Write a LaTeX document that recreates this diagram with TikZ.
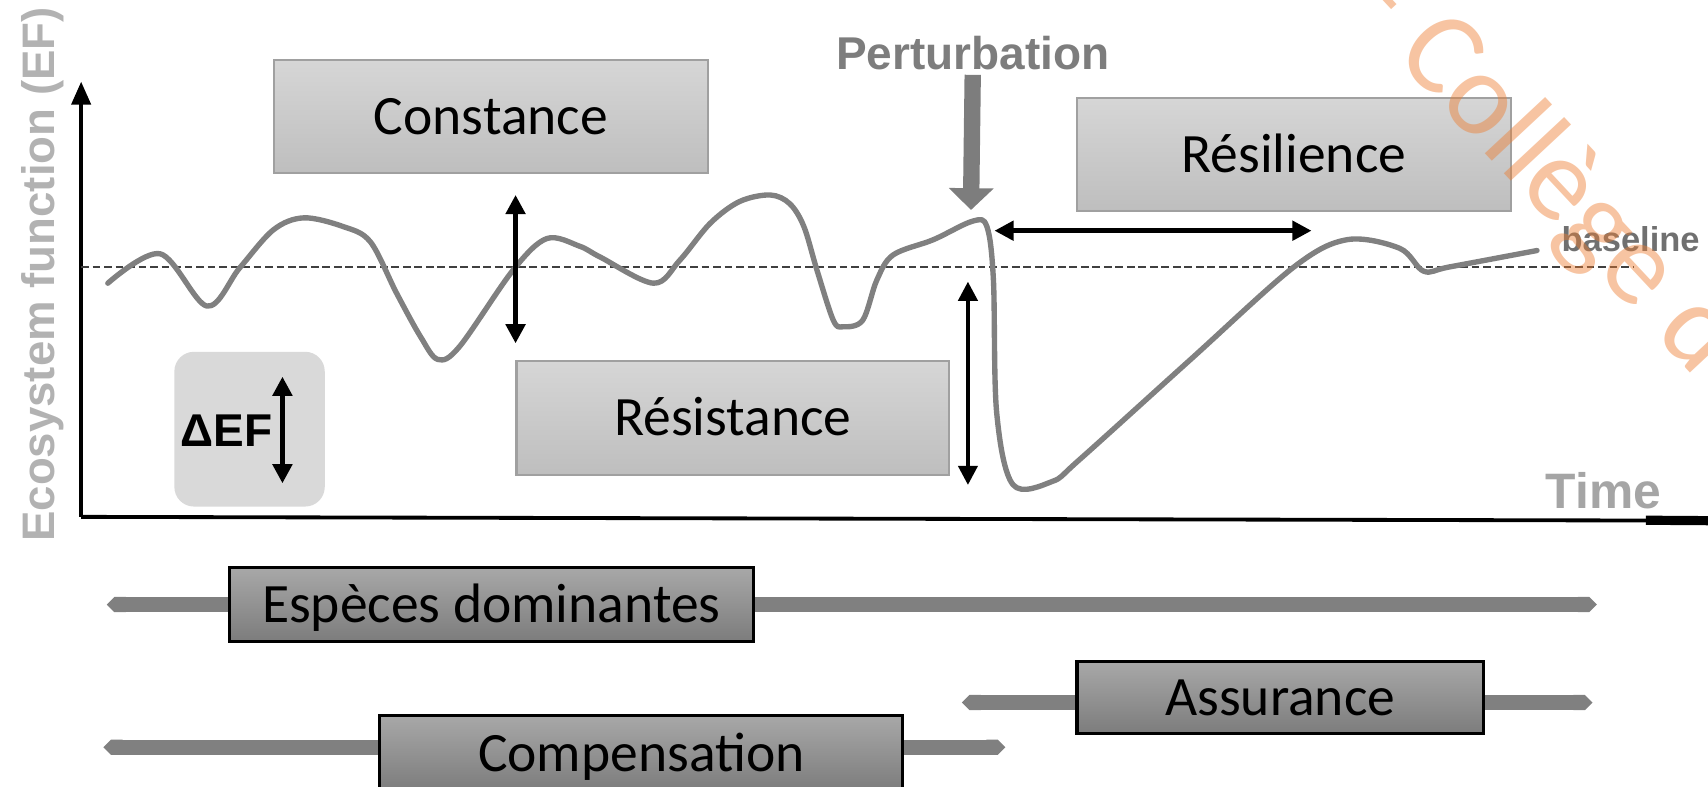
\documentclass[tikz,border=0pt]{standalone}
\usepackage{fontspec}
\setmainfont{Carlito}
\newfontfamily\arialfont{Liberation Sans}
\usepackage{xcolor}
\usepackage{tikz}
\usetikzlibrary{arrows.meta}
\definecolor{curvegray}{RGB}{128,128,128}
\definecolor{labelgray}{RGB}{178,178,178}
\definecolor{timegray}{RGB}{165,165,165}
\definecolor{pertgray}{RGB}{125,125,125}
\definecolor{boxedge}{RGB}{160,160,160}
\definecolor{lighttop}{RGB}{214,214,214}
\definecolor{lightbot}{RGB}{190,190,190}
\definecolor{darktop}{RGB}{168,168,168}
\definecolor{darkbot}{RGB}{124,124,124}
\definecolor{efgray}{RGB}{217,217,217}
\definecolor{wmorange}{RGB}{237,125,49}
\tikzstyle{curve} = [
    draw=curvegray,
    line width=1.4pt,
    line cap=round,
    line join=round
]
\tikzstyle{dashline} = [
    draw=black!75,
    line width=0.5pt,
    dash pattern=on 2pt off 1pt
]
\tikzstyle{dblarrow} = [
    line width=1.2pt,
    <->,
    >={Triangle[length=5pt,width=5pt]}
]
\tikzstyle{bar} = [
    draw=curvegray,
    line width=0.14cm,
    {Triangle Cap}-{Triangle Cap}
]
\tikzstyle{lightbox} = [
    draw=boxedge,
    line width=0.6pt,
    top color=lighttop,
    bottom color=lightbot,
    inner sep=0pt,
    font=\fontsize{14.5}{17}\selectfont,
    text height=9.3pt,
    text depth=0pt
]
\tikzstyle{darkbox} = [
    draw=black,
    line width=0.8pt,
    top color=darktop,
    bottom color=darkbot,
    inner sep=0pt,
    font=\fontsize{14.5}{17}\selectfont,
    text height=9.3pt,
    text depth=0pt
]

\begin{document}
\begin{tikzpicture}[x=0.01cm,y=-0.01cm]

\useasboundingbox (0,0) rectangle (1568,722);

\node[draw=none, fill=efgray, rounded corners=0.18cm, minimum width=1.38cm, minimum height=1.42cm] (efbox) at (229.1,394) {};

\coordinate (origin) at (74.5,474.5);
\coordinate (ytop) at (74.5,75);
\coordinate (xend) at (1568,478);
\coordinate (xthick) at (1511,477.6);
\draw[line width=1pt, -{Triangle[length=6pt,width=5pt]}] (origin) -- (ytop);
\draw[line width=1pt] (origin) -- (xend);
\draw[line width=2.4pt] (xthick) -- (xend);

\node[rotate=90, anchor=base, text=labelgray, font=\arialfont\bfseries\fontsize{11.9}{14}\selectfont] (ylabel) at (50,252) {Ecosystem function (EF)};

\node[text=timegray, font=\arialfont\bfseries\fontsize{13}{15}\selectfont] (timelbl) at (1472,450.5) {Time};

\coordinate (bl-l) at (74.5,245.5);
\coordinate (bl-r) at (1499,245.5);
\draw[dashline] (bl-l) -- (bl-r);

\node[text=pertgray!90!black, font=\arialfont\bfseries\fontsize{9}{11}\selectfont] (baselbl) at (1497,220) {baseline};

\draw[curve] plot[smooth, tension=0.55] coordinates {
(99,260) (147,233) (190,281) (220,246) (251,211) (279,200) (315,208)
(340,222) (364,269) (386,309) (402,330) (422,318) (471,248) (502,219)
(532,226) (551,236) (600,260) (624,239) (652,205) (679,185) (707,179)
(725,187) (738,208) (750,248) (765,294) (774,300) (792,294) (805,257)
(820,234) (857,220) (893,203) (906,208) (912,257) (915,379) (930,445)
(966,442) (991,422) (1093,330) (1188,245) (1237,220) (1285,228)
(1307,249) (1331,245) (1411,230)};

\node[text=pertgray, font=\arialfont\bfseries\fontsize{12}{14}\selectfont, inner sep=1pt] (pert) at (893,49) {Perturbation};
\coordinate (peak) at (891.4,192.8);
\draw[draw=pertgray, line width=0.15cm, -{Triangle[length=0.2cm,width=0.4cm]}] (pert.south) -- (peak);

\coordinate (cst-top) at (473.3,179);
\coordinate (cst-bot) at (473.3,315.2);
\draw[dblarrow] (cst-top) -- (cst-bot);

\coordinate (res-top) at (888.6,258.6);
\coordinate (res-bot) at (888.6,445.2);
\draw[dblarrow, line width=1pt] (res-top) -- (res-bot);

\coordinate (rsl-l) at (913,211.8);
\coordinate (rsl-r) at (1204,211.8);
\draw[dblarrow] (rsl-l) -- (rsl-r);

\node[font=\arialfont\bfseries\fontsize{12}{14}\selectfont] (deltaef) at (207.7,395.5) {ΔEF};
\coordinate (ef-top) at (259.3,345.8);
\coordinate (ef-bot) at (259.3,443.7);
\draw[dblarrow] (ef-top) -- (ef-bot);

\node[lightbox, minimum width=3.98cm, minimum height=1.04cm] (constance) at (450.7,107.1) {Constance};
\node[lightbox, minimum width=3.98cm, minimum height=1.04cm] (resilience) at (1187.8,141.7) {Résilience};
\node[lightbox, minimum width=3.97cm, minimum height=1.05cm] (resistance) at (672.7,383.8) {Résistance};

\coordinate (esp-l) at (98,555);
\coordinate (esp-r) at (1466,555);
\draw[bar] (esp-l) -- (esp-r);
\coordinate (ass-l) at (883,645);
\coordinate (ass-r) at (1462,645);
\draw[bar] (ass-l) -- (ass-r);
\coordinate (cmp-l) at (95,686);
\coordinate (cmp-r) at (923,686);
\draw[bar] (cmp-l) -- (cmp-r);

\begin{scope}
\clip (0,0) rectangle (1568,722);
\node[darkbox, minimum width=4.81cm, minimum height=0.68cm] (especes) at (451,555) {Espèces dominantes};
\node[darkbox, minimum width=3.73cm, minimum height=0.66cm] (assurance) at (1175.3,640.6) {Assurance};
\node[darkbox, minimum width=4.80cm, minimum height=0.70cm] (compensation) at (588.8,691.5) {Compensation};
\node[rotate=-47, text=wmorange, text opacity=0.45, font=\fontsize{31}{34}\selectfont] (watermark) at (1412,151) {– Collège d};
\end{scope}

\end{tikzpicture}
\end{document}
